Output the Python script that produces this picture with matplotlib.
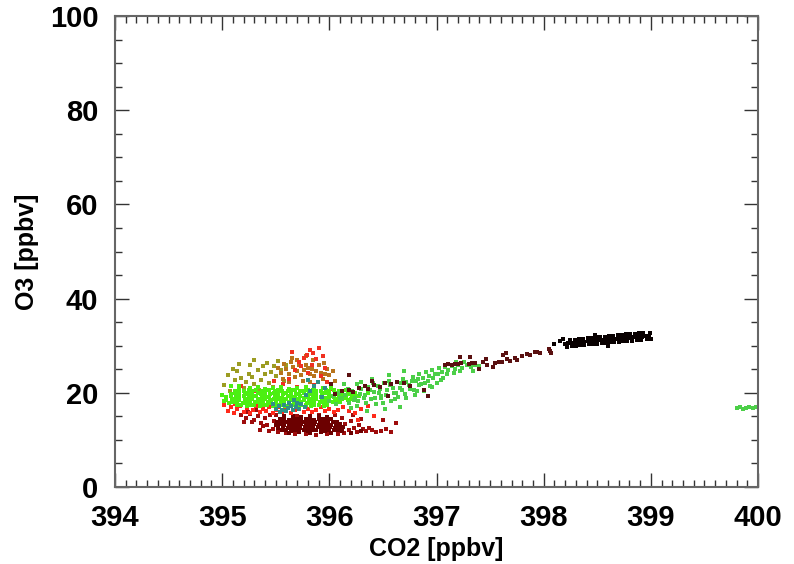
import matplotlib.pyplot as plt
from matplotlib.ticker import MultipleLocator

# points, one list per colour group: (CO2, O3)
olive = [(395.02,21.6),(395.07,20.4),(395.10,25.0),(395.14,24.6),(395.18,23.1),(395.22,22.4),(395.25,24.0),
         (395.28,23.3),(395.30,21.9),(395.33,24.8),(395.36,22.7),(395.38,25.6),(395.40,23.9),(395.42,26.4),
         (395.44,22.1),(395.46,24.4),(395.48,25.7),(395.50,23.5),(395.52,26.8),(395.26,25.8),(395.20,21.0),
         (395.34,20.6),(395.12,22.8),(395.55,24.9),(395.58,22.6),(395.16,26.1),(395.60,26.0),(395.05,23.7),
         (395.47,21.3),(395.30,26.9)]

orange = [(395.52,25.2),(395.55,24.3),(395.58,26.1),(395.60,25.0),(395.62,24.0),(395.64,26.6),(395.66,25.5),
          (395.68,23.4),(395.70,24.6),(395.72,25.8),(395.74,23.8),(395.76,24.9),(395.78,26.0),(395.80,25.3),
          (395.82,24.1),(395.84,25.0),(395.86,23.5),(395.88,24.6),(395.90,25.8),(395.92,24.3),(395.94,22.9),
          (395.96,24.0),(395.98,25.1),(396.00,23.7),(396.03,24.6),(395.57,23.0),(395.65,27.3),(395.75,22.6),
          (395.85,27.0),(395.95,26.4),(395.70,26.9),(395.82,22.2),(396.05,22.5),(395.62,22.3),(395.78,27.8)]

red_upper = [(395.72,26.5),(395.76,27.4),(395.79,28.1),(395.82,29.0),(395.85,28.4),(395.88,27.2),(395.90,29.6),
             (395.74,25.6),(395.84,26.0),(395.94,27.8),(395.96,25.2),(395.68,24.8),(395.80,24.2),(395.92,23.6),
             (395.62,23.0),(395.98,22.4),(395.57,21.8),(395.70,21.2),(395.86,21.6),(396.02,20.8),(395.48,22.6),
             (395.40,19.8),(395.30,20.4),(395.18,21.4),(396.10,19.3),(396.20,18.6),(395.65,28.6)]

darkred_outer = [(395.18,15.2),(395.22,14.6),(395.26,15.5),(395.30,14.2),(395.33,15.0),(395.36,13.6),(395.40,14.7),
                 (395.42,13.1),(395.45,15.3),(395.47,12.4),(395.38,12.9),(395.28,13.8),(395.35,12.2),(395.44,11.8),
                 (395.48,14.0),(396.12,14.6),(396.15,13.3),(396.18,12.1),(396.20,14.0),(396.23,12.6),(396.26,11.7),
                 (396.28,13.1),(396.31,12.3),(396.34,11.9),(396.37,12.5),(396.40,12.0),(396.44,11.6),(396.48,11.9),
                 (396.53,12.3),(396.30,14.4),(396.14,11.5),(396.08,11.3),(395.98,11.2),(395.88,11.1),(395.78,11.3),
                 (395.68,11.2),(395.60,11.4),(395.52,11.6),(396.22,15.2),(395.24,16.0),(395.20,13.9),(395.32,16.3),
                 (395.50,15.2),(395.70,15.1),(395.90,15.3),(396.05,15.2),(396.50,14.3),(396.58,11.7),(396.62,13.6)]

darkred_core = [(395.56,12.0),(395.60,12.2),(395.64,11.9),(395.68,12.1),(395.72,12.0),(395.76,12.2),(395.80,11.9),
                (395.84,12.1),(395.88,12.0),(395.92,12.2),(395.96,11.9),(396.00,12.1),(396.04,12.0),(396.08,12.2),
                (395.52,12.6),(395.57,12.7),(395.61,12.5),(395.65,12.7),(395.69,12.6),(395.73,12.5),(395.77,12.7),
                (395.81,12.6),(395.85,12.5),(395.89,12.7),(395.93,12.6),(395.97,12.5),(396.01,12.7),(396.05,12.6),
                (396.09,12.5),(396.13,12.7),(395.50,13.2),(395.54,13.3),(395.58,13.1),(395.62,13.3),(395.66,13.2),
                (395.70,13.1),(395.74,13.3),(395.78,13.2),(395.82,13.1),(395.86,13.3),(395.90,13.2),(395.94,13.1),
                (395.98,13.3),(396.02,13.2),(396.06,13.1),(396.10,13.3),(395.51,13.8),(395.55,13.9),(395.59,13.7),
                (395.63,13.9),(395.67,13.8),(395.71,13.7),(395.75,13.9),(395.79,13.8),(395.83,13.7),(395.87,13.9),
                (395.91,13.8),(395.95,13.7),(395.99,13.9),(396.03,13.8),(396.07,13.7),(395.54,14.4),(395.58,14.5),
                (395.62,14.3),(395.66,14.5),(395.70,14.4),(395.74,14.3),(395.78,14.5),(395.82,14.4),(395.86,14.3),
                (395.90,14.5),(395.94,14.4),(395.98,14.3),(396.02,14.5),(395.58,15.0),(395.66,15.1),(395.74,14.9),
                (395.82,15.0),(395.90,15.1),(395.98,14.9),(395.62,11.5),(395.72,11.6),(395.82,11.4),(395.92,11.6),
                (396.02,11.5),(396.12,11.9),(396.20,11.4),(396.30,11.8)]

red_band = [(395.05,16.2),(395.08,16.9),(395.11,15.8),(395.14,16.5),(395.17,17.2),(395.20,16.0),(395.23,16.7),
            (395.26,15.7),(395.29,16.4),(395.32,17.1),(395.35,15.9),(395.38,16.6),(395.41,16.1),(395.44,16.9),
            (395.47,15.8),(395.50,16.4),(395.53,17.0),(395.56,16.0),(395.60,16.6),(395.64,15.8),(395.68,16.3),
            (395.72,16.9),(395.76,16.0),(395.80,16.5),(395.84,15.9),(395.88,16.4),(395.92,17.0),(395.96,16.1),
            (396.00,16.6),(396.04,15.9),(396.08,16.4),(396.13,17.0),(396.18,16.2),(396.24,15.8),(396.30,16.6),
            (395.02,17.5),(395.12,17.6),(395.25,17.7),(396.36,17.2),(396.42,15.0),(396.27,14.3)]

lime = [(395.26,21.0),(395.33,21.2),(395.40,20.9),(395.47,21.1),(395.55,21.3),(395.62,20.9),(395.70,21.1),
        (395.78,21.2),(395.86,20.9),(395.94,21.1),(396.02,21.0),
        (395.12,20.3),(395.16,20.5),(395.20,20.4),(395.25,20.6),(395.28,20.3),(395.32,20.5),(395.37,20.4),
        (395.40,20.3),(395.44,20.6),(395.49,20.4),(395.52,20.5),(395.56,20.3),(395.61,20.4),(395.64,20.6),
        (395.68,20.5),(395.73,20.3),(395.76,20.4),(395.80,20.5),(395.85,20.6),(395.88,20.3),(395.92,20.4),
        (395.97,20.5),(396.00,20.3),(396.04,20.6),(396.09,20.4),(396.12,20.3),(396.16,20.5),
        (395.08,19.7),(395.12,19.9),(395.16,19.8),(395.21,20.0),(395.24,19.7),(395.28,19.8),(395.33,19.9),
        (395.36,19.7),(395.40,20.0),(395.45,19.8),(395.48,19.9),(395.52,19.7),(395.57,19.8),(395.60,20.0),
        (395.64,19.9),(395.69,19.7),(395.72,19.8),(395.76,20.0),(395.81,19.9),(395.84,19.7),(395.88,19.8),
        (395.93,20.0),(395.96,19.9),(396.00,19.7),(396.05,19.8),(396.08,20.0),(396.12,19.9),(396.17,19.7),
        (396.20,19.8),(396.24,19.9),
        (395.04,19.1),(395.08,19.3),(395.13,19.2),(395.16,19.0),(395.20,19.3),(395.25,19.1),(395.28,19.2),
        (395.32,19.3),(395.37,19.0),(395.40,19.2),(395.44,19.1),(395.49,19.3),(395.52,19.2),(395.56,19.0),
        (395.61,19.3),(395.64,19.1),(395.68,19.2),(395.73,19.3),(395.76,19.0),(395.80,19.2),(395.85,19.1),
        (395.88,19.3),(395.92,19.2),(395.97,19.0),(396.00,19.3),(396.04,19.1),(396.09,19.2),(396.12,19.3),
        (396.16,19.0),(396.21,19.2),(396.24,19.1),(396.28,19.3),
        (395.04,18.5),(395.09,18.7),(395.12,18.6),(395.16,18.4),(395.21,18.7),(395.24,18.5),(395.28,18.6),
        (395.33,18.7),(395.36,18.4),(395.40,18.6),(395.45,18.5),(395.48,18.7),(395.52,18.6),(395.57,18.4),
        (395.60,18.7),(395.64,18.5),(395.69,18.6),(395.72,18.7),(395.76,18.4),(395.81,18.6),(395.84,18.5),
        (395.88,18.7),(395.93,18.6),(395.96,18.4),(396.00,18.7),(396.05,18.5),(396.08,18.6),(396.12,18.7),
        (396.17,18.4),(396.20,18.6),(396.24,18.5),
        (395.06,17.9),(395.10,18.1),(395.14,18.0),(395.19,17.8),(395.22,18.1),(395.26,17.9),(395.31,18.0),
        (395.34,18.1),(395.38,17.8),(395.43,18.0),(395.46,17.9),(395.50,18.1),(395.55,18.0),(395.58,17.8),
        (395.62,18.1),(395.67,17.9),(395.70,18.0),(395.74,18.1),(395.79,17.8),(395.82,18.0),(395.86,17.9),
        (395.91,18.1),(395.94,18.0),(395.98,17.8),(396.03,18.1),(396.06,17.9),(396.10,18.0),
        (395.14,17.4),(395.18,17.5),(395.23,17.3),(395.26,17.5),(395.30,17.4),(395.35,17.3),(395.38,17.5),
        (395.42,17.4),(395.47,17.3),(395.50,17.5),(395.54,17.4),(395.59,17.3),(395.62,17.5),(395.66,17.4),
        (395.71,17.3),(395.74,17.5),(395.78,17.4),(395.83,17.3),(395.86,17.5),(395.90,17.4),(395.95,17.3),
        (395.98,17.5),(395.00,19.6),(395.02,18.2),(396.32,18.8),(396.36,19.9),(395.16,21.5),(395.08,21.4)]

green = [(396.00,18.2),(396.03,19.4),(396.06,17.6),(396.09,20.0),(396.12,18.8),(396.15,19.6),(396.18,17.9),
         (396.21,20.4),(396.24,19.0),(396.27,18.3),(396.30,20.8),(396.33,19.5),(396.36,21.2),(396.39,18.7),
         (396.42,20.1),(396.45,21.5),(396.48,19.3),(396.51,22.0),(396.54,20.6),(396.57,21.7),(396.60,19.9),
         (396.63,22.4),(396.66,21.1),(396.69,23.0),(396.72,22.2),(396.75,20.8),(396.78,23.4),(396.81,22.6),
         (396.84,24.0),(396.87,23.1),(396.90,24.5),(396.93,23.6),(396.96,24.8),(396.99,24.1),(397.02,25.2),
         (397.05,24.4),(397.08,25.4),(397.11,24.8),(397.14,25.6),(397.17,25.0),(397.20,25.8),(397.24,25.2),
         (397.28,25.9),(397.32,25.5),(397.36,26.0),(397.40,25.7),
         (396.20,16.8),(396.26,17.3),(396.35,16.1),(396.44,17.6),(396.52,16.5),(396.58,18.2),(396.66,17.0),
         (396.72,18.9),(396.80,19.6),(396.88,20.4),(396.96,21.2),(396.40,23.0),(396.56,23.8),(396.70,24.6),
         (396.30,22.4),(397.00,22.0),(396.14,21.8),(396.48,18.9),(396.62,20.0),(396.84,21.6),
         (396.10,19.0),(396.17,20.9),(396.23,18.4),(396.29,19.8),(396.34,17.9),(396.38,20.5),(396.43,18.9),
         (396.47,20.9),(396.53,19.6),(396.59,21.0),(396.64,19.2),(396.68,20.5),(396.74,21.6),(396.79,20.7),
         (396.83,22.9),(396.86,21.9),(396.92,22.6),(396.97,23.2),(397.01,23.9),(397.06,23.2),(397.10,24.0),
         (397.16,24.2),(397.22,24.6),(397.26,26.6),(397.18,26.6),(397.34,24.6),
         (396.26,21.9),(396.32,18.9),(396.41,22.0),(396.46,19.9),(396.50,17.8),(396.56,22.6),(396.61,18.6),
         (396.67,22.1),(396.71,19.8),(396.77,22.5),(396.82,20.3),(396.89,22.0),(396.94,21.4),(397.04,22.8),
         (399.80,16.7),(399.83,16.9),(399.86,16.6),(399.89,16.8),(399.92,17.0),(399.95,16.7),(399.98,16.9)]

teal = [(395.50,16.6),(395.53,17.2),(395.56,16.3),(395.58,17.5),(395.61,16.8),(395.64,17.3),(395.66,16.4),
        (395.69,17.0),(395.72,16.6),(395.74,17.6),(395.77,16.9),(395.54,16.0),(395.62,17.9),(395.70,17.9),
        (395.78,19.6),(395.82,20.3),(395.86,21.4),(395.89,22.2),(395.93,19.2),(395.80,22.8),(395.96,21.0),
        (395.47,17.6),(395.60,16.1),(395.67,18.4)]

maroon = [(396.05,19.8),(396.12,20.3),(396.18,20.6),(396.22,20.1),(396.28,21.0),(396.33,21.4),(396.36,20.9),
          (396.42,21.6),(396.47,21.2),(396.52,22.1),(396.58,21.8),(396.63,22.4),(396.70,22.0),(396.40,22.6),
          (396.55,19.3),(396.75,21.5),(396.88,20.6),(396.92,19.4),(396.18,23.7),(396.02,21.9),
          (397.08,26.0),(397.11,26.1),(397.14,26.0),(397.17,26.2),(397.20,26.1),(397.23,26.3),(397.30,26.2),
          (397.33,26.4),(397.36,26.3),(397.43,26.6),(397.46,27.1),(397.47,26.0),(397.22,27.6),(397.31,27.7),
          (397.40,25.0),(397.53,25.4),(397.55,26.4),(397.58,26.5),(397.61,26.6),(397.66,27.1),(397.69,26.8),
          (397.73,27.4),(397.75,26.9),(397.80,27.8),(397.84,28.2),(397.87,28.0),(397.62,28.1),(397.65,28.4),
          (397.92,28.7),(397.94,28.6),(397.97,28.5),(398.06,28.9),(398.07,28.5),(398.05,29.2)]

black = [(398.20,30.4),(398.23,30.5),(398.26,30.5),(398.29,30.7),(398.32,30.6),(398.35,30.8),(398.38,30.8),
         (398.41,30.9),(398.44,30.9),(398.47,31.1),(398.50,31.0),(398.53,31.2),(398.56,31.2),(398.59,31.3),
         (398.62,31.3),(398.65,31.5),(398.68,31.4),(398.71,31.6),(398.74,31.6),(398.77,31.7),(398.80,31.7),
         (398.83,31.9),(398.86,31.8),(398.89,32.0),(398.92,31.9),(398.95,32.1),(398.98,32.0),
         (398.25,31.2),(398.29,31.3),(398.33,31.4),(398.37,31.5),(398.41,31.6),(398.45,31.7),(398.49,31.8),
         (398.53,31.8),(398.57,31.9),(398.61,32.0),(398.65,32.1),(398.69,32.2),(398.73,32.3),(398.77,32.4),
         (398.81,32.4),(398.85,32.5),(398.89,32.6),(398.93,32.7),
         (398.22,29.8),(398.26,29.9),(398.30,30.0),(398.34,30.1),(398.38,30.2),(398.42,30.3),(398.46,30.3),
         (398.50,30.4),(398.54,30.5),(398.58,30.6),(398.62,30.7),(398.66,30.8),(398.70,30.8),(398.74,30.9),
         (398.78,31.0),(398.82,31.1),(398.87,31.2),(398.91,31.3),(398.96,31.4),
         (398.15,30.9),(398.18,31.5),(398.99,32.8),(399.00,31.4),(398.48,32.2),(398.60,30.0),(398.10,30.3)]

groups = [(olive, '#9c9c22'), (orange, '#b8741c'), (red_upper, '#f03020'),
          (darkred_outer, '#9e0c0c'), (darkred_core, '#6c0000'), (red_band, '#ff2a1a'),
          (lime, '#4cef12'), (green, '#4ccf48'), (teal, '#2f8f86'),
          (maroon, '#5a1010'), (black, '#080000')]

plt.rcParams['font.family'] = ['Liberation Sans', 'DejaVu Sans']
plt.rcParams['font.weight'] = 'bold'

fig = plt.figure(figsize=(7.94, 5.64), dpi=100)
ax = fig.add_axes([0.1448, 0.1365, 0.8099, 0.8351])

for pts, col in groups:
    ax.scatter([p[0] for p in pts], [p[1] for p in pts], s=11, c=col, marker='s', linewidths=0)

ax.set_xlim(394, 400)
ax.set_ylim(0, 100)
ax.set_xticks(range(394, 401))
ax.set_yticks(range(0, 101, 20))
ax.xaxis.set_minor_locator(MultipleLocator(0.1))
ax.yaxis.set_minor_locator(MultipleLocator(5))
ax.tick_params(which='both', direction='in', top=True, right=True, width=1, color='#333333')
ax.tick_params(which='major', length=10, labelsize=21, pad=12)
ax.tick_params(which='minor', length=5)
for sp in ax.spines.values():
    sp.set_color('#666666')
    sp.set_linewidth(1.5)

ax.set_xlabel('CO2 [ppbv]', fontsize=18, fontweight='bold', labelpad=4)
ax.set_ylabel('O3 [ppbv]', fontsize=18, fontweight='bold', labelpad=8)

# next panel's label, cut by the bottom edge as in the original figure
fig.text(0.0, -0.036, 'ZETA [K]', fontsize=18, fontweight='bold', va='baseline')

fig.savefig('out.png', dpi=100)
